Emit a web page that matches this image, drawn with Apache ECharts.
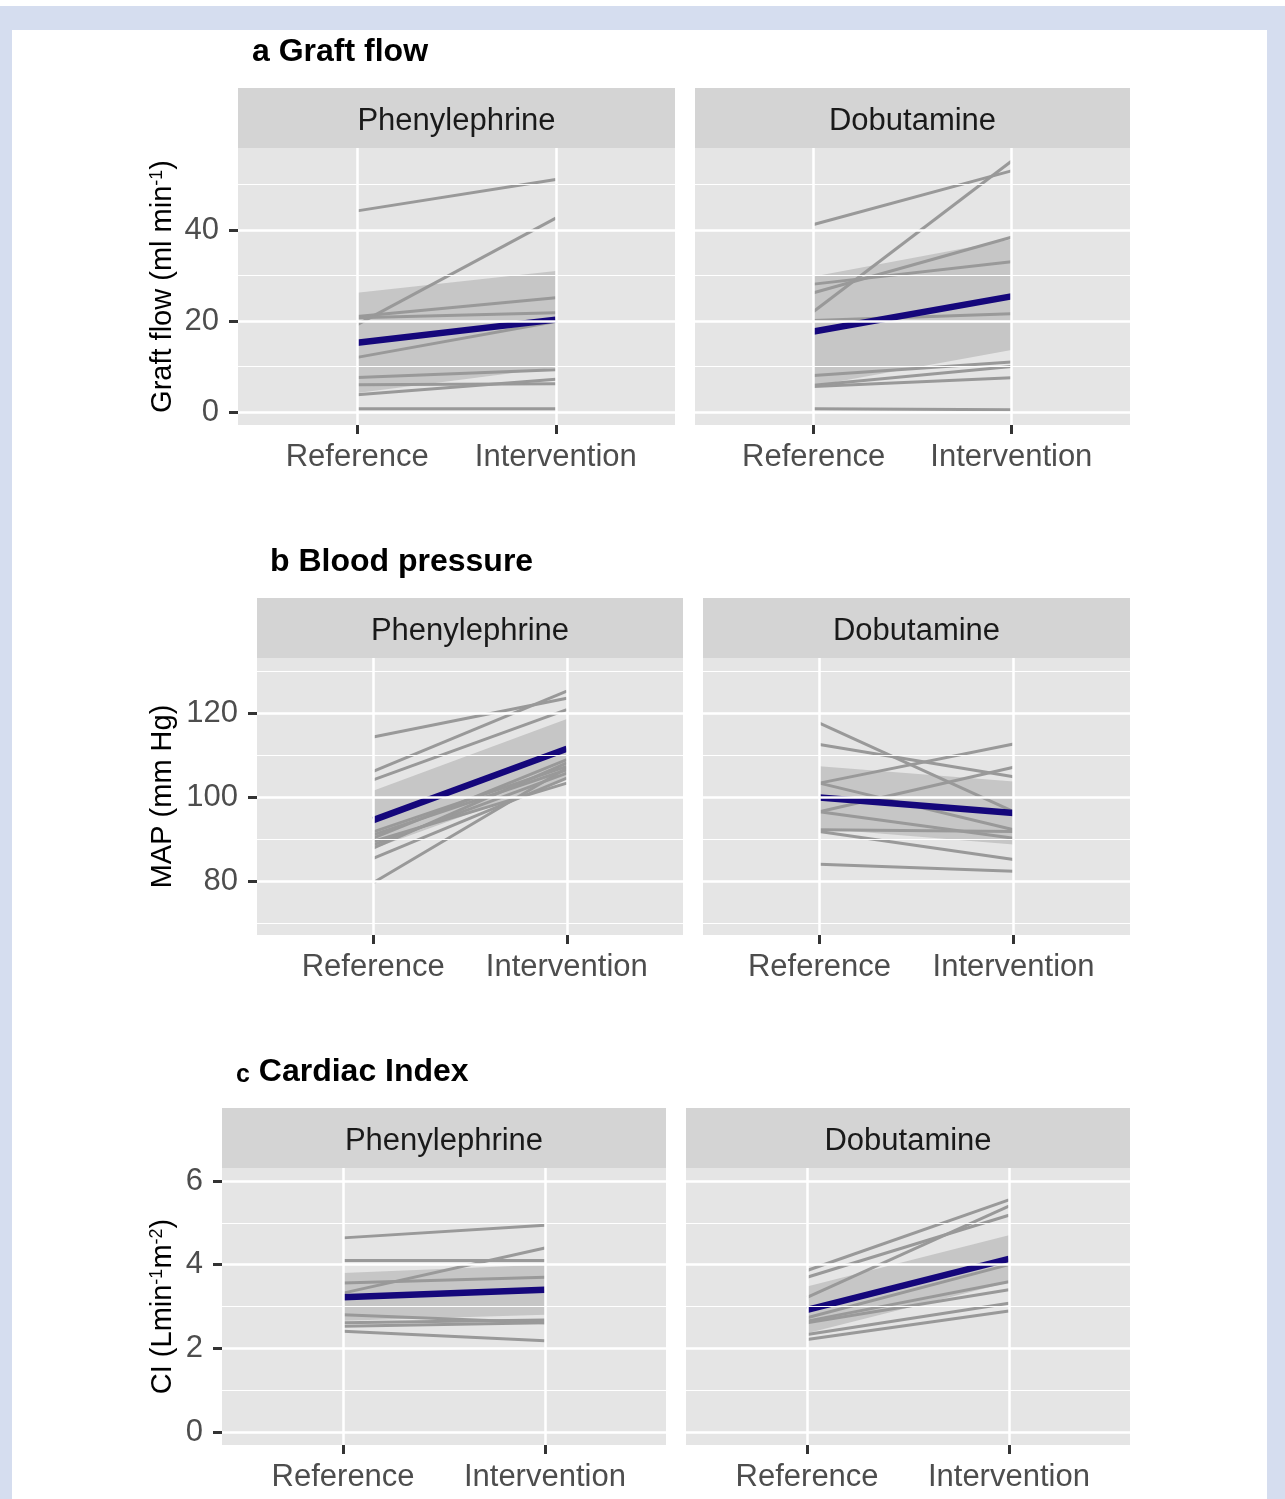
<!DOCTYPE html>
<html><head><meta charset="utf-8">
<script src="https://cdn.jsdelivr.net/npm/echarts@6/dist/echarts.min.js"></script>
<style>
html,body{margin:0;padding:0;background:#fff;}
#frame{position:absolute;left:0;top:6px;width:1285px;height:1493px;background:#d5ddef;}
#inner{position:absolute;left:12px;top:24px;width:1255px;height:1469px;background:#fff;}
#chart{position:absolute;left:0;top:0;width:1285px;height:1499px;}
</style></head><body>
<div id="frame"><div id="inner"></div></div>
<div id="chart"></div>
<script>
// ---------- data ----------
const categories = ['Reference', 'Intervention'];
const facets = ['Phenylephrine', 'Dobutamine'];

const graftTicks = [0, 20, 40];
const graftMinor = [10, 30, 50];
const mapTicks = [80, 100, 120];
const mapMinor = [70, 90, 110, 130];
const ciTicks = [0, 2, 4, 6];
const ciMinor = [1, 3, 5];

// a Graft flow
const graftPheRef  = [44.2, 19.2, 21.0, 20.7, 12.0, 7.6, 6.0, 3.8, 0.7];
const graftPheInt  = [51.1, 42.6, 25.1, 21.8, 19.9, 9.3, 6.2, 7.2, 0.7];
const graftPheMean = [15.2, 20.3];
const graftPheLo   = [4.2, 9.8];
const graftPheHi   = [26.2, 31.0];

const graftDobRef  = [41.2, 22.1, 26.2, 28.1, 20.1, 8.0, 5.9, 5.6, 0.7];
const graftDobInt  = [53.0, 55.1, 38.4, 33.0, 21.6, 11.0, 10.0, 7.5, 0.5];
const graftDobMean = [17.7, 25.4];
const graftDobLo   = [5.7, 13.6];
const graftDobHi   = [29.8, 37.9];

// b Blood pressure
const mapPheRef  = [114.3, 106.1, 104.1, 79.6, 85.4, 87.8, 88.6, 89.4, 90.2, 91.0, 91.7];
const mapPheInt  = [123.5, 125.2, 120.8, 106.9, 104.5, 108.1, 105.7, 103.3, 108.9, 106.5, 107.3];
const mapPheMean = [94.5, 111.5];
const mapPheLo   = [87.7, 104.4];
const mapPheHi   = [101.5, 118.6];

const mapDobRef  = [117.6, 112.5, 103.3, 103.3, 96.5, 96.5, 92.2, 91.8, 84.0];
const mapDobInt  = [96.5, 104.8, 112.6, 92.2, 107.1, 90.2, 91.8, 85.1, 82.3];
const mapDobMean = [99.9, 96.2];
const mapDobLo   = [92.5, 88.7];
const mapDobHi   = [107.3, 103.7];

// c Cardiac index
const ciPheRef  = [4.64, 4.10, 3.32, 3.56, 2.80, 2.61, 2.53, 2.41];
const ciPheInt  = [4.94, 4.10, 4.40, 3.70, 2.61, 2.68, 2.61, 2.18];
const ciPheMean = [3.22, 3.40];
const ciPheLo   = [2.66, 2.80];
const ciPheHi   = [3.80, 4.00];

const ciDobRef  = [3.86, 3.70, 3.22, 2.73, 2.65, 2.61, 2.33, 2.21];
const ciDobInt  = [5.55, 5.18, 5.40, 4.00, 3.59, 3.40, 3.08, 2.89];
const ciDobMean = [2.92, 4.14];
const ciDobLo   = [2.36, 3.58];
const ciDobHi   = [3.48, 4.70];

// ---------- layout & style ----------
const FONT = '"Liberation Sans", Arial, Helvetica, sans-serif';
const PANEL_BG = '#e5e5e5';
const STRIP_BG = '#d4d4d4';
const LINE_GREY = '#999999';
const MEAN_COL = '#15077b';
const RIBBON = 'rgba(127,127,127,0.30)';

const panels = [
  { letter: 'a', title: 'Graft flow', letterSize: 32, tx: 252, ty: 52, top: 148, h: 277,
    lefts: [238, 695], widths: [437, 435], ymin: -2.86, ymax: 58.02,
    ticks: graftTicks, minor: graftMinor, yName: 'Graft flow (ml min{s|-1})', gap: 61,
    sets: [[graftPheRef, graftPheInt, graftPheMean, graftPheLo, graftPheHi],
           [graftDobRef, graftDobInt, graftDobMean, graftDobLo, graftDobHi]] },
  { letter: 'b', title: 'Blood pressure', letterSize: 32, tx: 270, ty: 562, top: 658, h: 277,
    lefts: [257, 703], widths: [426, 427], ymin: 67.14, ymax: 133.1,
    ticks: mapTicks, minor: mapMinor, yName: 'MAP (mm Hg)', gap: 80,
    sets: [[mapPheRef, mapPheInt, mapPheMean, mapPheLo, mapPheHi],
           [mapDobRef, mapDobInt, mapDobMean, mapDobLo, mapDobHi]] },
  { letter: 'c', title: 'Cardiac Index', letterSize: 25, tx: 236, ty: 1072, top: 1168, h: 277,
    lefts: [222, 686], widths: [444, 444], ymin: -0.31, ymax: 6.31,
    ticks: ciTicks, minor: ciMinor, yName: 'CI (Lmin{s|-1}m{s|-2})', gap: 45,
    sets: [[ciPheRef, ciPheInt, ciPheMean, ciPheLo, ciPheHi],
           [ciDobRef, ciDobInt, ciDobMean, ciDobLo, ciDobHi]] }
];

const grids = [], xAxes = [], yAxes = [], series = [], graphics = [];
let gi = 0;

panels.forEach(p => {
  graphics.push({
    type: 'text', x: p.tx, y: p.ty, z: 10,
    style: {
      text: '{l|' + p.letter + '}{t| ' + p.title + '}',
      verticalAlign: 'middle', align: 'left',
      rich: {
        l: { fontSize: p.letterSize, fontWeight: 'bold', fontFamily: FONT, fill: '#000', verticalAlign: 'bottom' },
        t: { fontSize: 32, fontWeight: 'bold', fontFamily: FONT, fill: '#000' }
      }
    }
  });
  for (let k = 0; k < 2; k++) {
    const left = p.lefts[k], width = p.widths[k];
    grids.push({ left: left, top: p.top, width: width, height: p.h, show: true,
      backgroundColor: PANEL_BG, borderWidth: 0 });
    // strip
    graphics.push({ type: 'rect', z: 5, shape: { x: left, y: p.top - 60, width: width, height: 60 },
      style: { fill: STRIP_BG } });
    graphics.push({ type: 'text', z: 6, x: left + width / 2, y: p.top - 27,
      style: { text: facets[k], align: 'center', verticalAlign: 'middle',
        fontSize: 31, fontFamily: FONT, fill: '#1a1a1a' } });

    xAxes.push({
      type: 'value', gridIndex: gi, min: 0.4, max: 2.6, position: 'bottom',
      axisLine: { show: false, onZero: false }, splitLine: { show: false },
      axisTick: { show: true, customValues: [1, 2], length: 9, lineStyle: { color: '#333', width: 3 } },
      axisLabel: { customValues: [1, 2], formatter: v => categories[Math.round(v) - 1],
        color: '#4d4d4d', fontSize: 31, margin: 17, fontFamily: FONT }
    });
    yAxes.push({
      type: 'value', gridIndex: gi, min: p.ymin, max: p.ymax, position: 'left',
      axisLine: { show: false, onZero: false }, splitLine: { show: false },
      axisTick: { show: k === 0, customValues: p.ticks, length: 9, lineStyle: { color: '#333', width: 3 } },
      axisLabel: { show: k === 0, customValues: p.ticks, color: '#4d4d4d', fontSize: 31, margin: 19, fontFamily: FONT },
      name: k === 0 ? p.yName : '', nameLocation: 'middle', nameRotate: 90, nameGap: p.gap,
      nameTextStyle: { fontSize: 29, fontFamily: FONT, color: '#000',
        rich: { s: { fontSize: 18, fontFamily: FONT, color: '#000', verticalAlign: 'top' } } }
    });

    // grid lines (white), via library scales
    const ml = [];
    p.minor.forEach(v => ml.push({ yAxis: v, lineStyle: { color: '#fff', width: 1.2, type: 'solid' } }));
    p.ticks.forEach(v => ml.push({ yAxis: v, lineStyle: { color: '#fff', width: 2.5, type: 'solid' } }));
    [1, 2].forEach(v => ml.push({ xAxis: v, lineStyle: { color: '#fff', width: 2.5, type: 'solid' } }));
    series.push({ type: 'line', xAxisIndex: gi, yAxisIndex: gi, data: [], z: 1, silent: true,
      markLine: { silent: true, symbol: 'none', animation: false, label: { show: false },
        emphasis: { disabled: true }, data: ml } });

    const [refs, ints, mean, lo, hi] = p.sets[k];
    // confidence ribbon as a polygon through the axis scales
    const ribRows = [[1, lo[0], hi[0]], [2, lo[1], hi[1]]];
    series.push({
      type: 'custom', xAxisIndex: gi, yAxisIndex: gi, z: 2, silent: true, clip: true,
      data: ribRows,
      encode: { x: 0, y: [1, 2] },
      renderItem: (params, api) => {
        if (params.dataIndex !== 0) return null;
        const pts = [];
        ribRows.forEach(r => pts.push(api.coord([r[0], r[2]])));
        for (let i = ribRows.length - 1; i >= 0; i--) pts.push(api.coord([ribRows[i][0], ribRows[i][1]]));
        return { type: 'polygon', shape: { points: pts }, style: { fill: RIBBON } };
      }
    });
    // individual subjects
    refs.forEach((r, i) => {
      series.push({ type: 'line', xAxisIndex: gi, yAxisIndex: gi, z: 3, silent: true,
        symbol: 'none', lineStyle: { color: LINE_GREY, width: 3 },
        data: [[1, r], [2, ints[i]]] });
    });
    // mean
    series.push({ type: 'line', xAxisIndex: gi, yAxisIndex: gi, z: 4, silent: true,
      symbol: 'none', lineStyle: { color: MEAN_COL, width: 6.5 },
      data: [[1, mean[0]], [2, mean[1]]] });
    gi++;
  }
});

const chart = echarts.init(document.getElementById('chart'), null, { renderer: 'canvas' });
chart.setOption({
  backgroundColor: 'transparent',
  animation: false,
  grid: grids, xAxis: xAxes, yAxis: yAxes, series: series,
  graphic: graphics
});
</script>
</body></html>
